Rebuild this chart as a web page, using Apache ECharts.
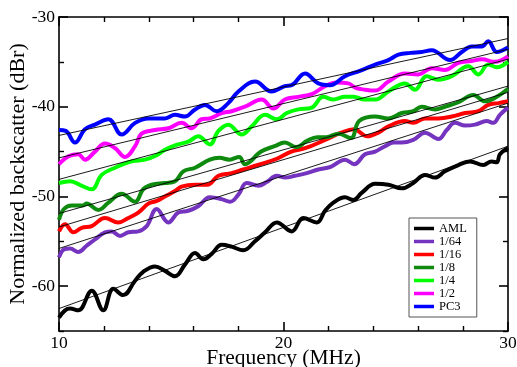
<!DOCTYPE html>
<html>
<head>
<meta charset="utf-8">
<script src="https://cdn.jsdelivr.net/npm/echarts@6/dist/echarts.min.js"></script>
<style>
html,body{margin:0;padding:0;background:#fff;}
#c{width:517px;height:367px;}
</style>
</head>
<body>
<div id="c"></div>
<script>
// ---- data ----
const seriesNames = ['AML', '1/64', '1/16', '1/8', '1/4', '1/2', 'PC3'];
const xTicks = [10, 20, 30];
const yTickLabels = [-60, -50, -40, -30];
const yMinorTicks = [-65, -55, -45, -35];

const aml = [[10.0,-63.5],[10.27,-62.7],[10.49,-62.5],[10.86,-62.7],[11.46,-60.5],[11.97,-62.7],[12.42,-60.3],[12.86,-61.0],[13.39,-59.4],[13.75,-58.4],[14.28,-57.8],[14.72,-58.3],[15.17,-58.9],[15.61,-57.6],[16.06,-56.3],[16.43,-57.0],[16.80,-56.4],[17.25,-55.4],[17.69,-55.6],[18.21,-56.0],[18.73,-55.0],[19.18,-54.0],[19.70,-52.9],[20.37,-53.9],[20.88,-52.4],[21.48,-52.9],[21.85,-51.6],[22.22,-50.7],[22.74,-50.1],[23.11,-50.4],[23.48,-49.6],[24.08,-48.6],[24.67,-48.7],[25.27,-49.1],[25.78,-48.5],[26.30,-47.6],[26.75,-47.9],[27.19,-47.2],[27.79,-46.5],[28.31,-46.1],[28.90,-46.5],[29.27,-46.1],[29.50,-46.2],[29.64,-45.3],[30.0,-44.6]];

const s64 = [[10.0,-56.8],[10.22,-55.9],[10.49,-55.8],[10.86,-56.2],[11.23,-55.5],[11.60,-54.8],[12.05,-54.0],[12.35,-53.9],[12.72,-54.4],[13.09,-54.0],[13.53,-53.9],[13.91,-53.3],[14.35,-51.4],[14.87,-52.9],[15.31,-51.8],[15.76,-51.6],[16.20,-51.1],[16.72,-50.1],[17.24,-50.3],[17.62,-50.6],[17.99,-49.8],[18.36,-48.5],[18.88,-48.8],[19.25,-48.4],[19.70,-47.7],[20.07,-47.9],[20.51,-47.7],[21.03,-47.4],[21.55,-47.0],[22.10,-46.7],[22.74,-45.9],[23.15,-46.4],[23.63,-45.3],[24.08,-45.0],[24.52,-44.4],[24.90,-44.0],[25.27,-44.0],[25.78,-43.7],[26.30,-42.9],[26.90,-43.6],[27.27,-42.6],[27.64,-41.8],[28.09,-42.1],[28.53,-42.0],[29.05,-41.6],[29.35,-41.8],[29.64,-40.9],[30.0,-40.1]];

const s16 = [[10.0,-53.9],[10.27,-53.1],[10.64,-54.0],[11.01,-53.5],[11.46,-53.3],[12.05,-52.4],[12.64,-52.9],[13.09,-52.4],[13.53,-51.8],[13.98,-50.8],[14.35,-50.5],[14.72,-50.0],[15.17,-49.4],[15.46,-48.9],[16.06,-48.7],[16.60,-48.7],[17.10,-47.7],[17.69,-47.4],[18.21,-47.0],[18.86,-46.5],[19.70,-45.8],[20.35,-45.0],[21.0,-44.6],[21.85,-43.7],[22.57,-42.9],[23.13,-42.5],[23.73,-43.3],[24.28,-42.8],[24.67,-42.2],[25.41,-41.6],[25.78,-41.8],[26.30,-41.3],[26.90,-41.3],[27.49,-41.1],[28.09,-40.7],[28.68,-40.5],[29.12,-39.8],[29.57,-39.6],[30.0,-39.4]];

const s8 = [[10.0,-52.6],[10.22,-51.4],[10.57,-51.0],[11.06,-51.0],[11.23,-50.8],[11.75,-51.5],[12.20,-50.7],[12.79,-49.7],[13.39,-50.6],[13.75,-49.2],[14.13,-48.7],[14.72,-48.5],[15.17,-48.3],[15.54,-47.2],[16.06,-46.8],[16.72,-45.9],[17.15,-45.7],[17.59,-45.9],[18.03,-45.6],[18.28,-46.4],[19.0,-45.0],[19.60,-44.4],[20.06,-44.0],[20.57,-44.5],[21.05,-43.8],[21.50,-43.4],[21.90,-43.4],[22.45,-43.0],[23.0,-43.5],[23.37,-41.6],[24.08,-41.1],[24.67,-41.3],[25.27,-40.7],[25.78,-40.5],[26.15,-40.0],[26.75,-40.3],[27.19,-40.0],[27.79,-39.5],[28.46,-38.7],[28.98,-39.4],[29.50,-38.9],[30.0,-38.0]];

const s4 = [[10.0,-48.5],[10.5,-48.3],[11.0,-48.8],[11.46,-49.2],[11.90,-47.6],[12.49,-46.8],[13.24,-46.1],[13.83,-45.9],[14.28,-45.5],[14.72,-44.8],[15.17,-44.3],[15.76,-43.9],[16.20,-43.3],[16.72,-44.2],[17.10,-42.7],[17.54,-42.0],[18.14,-43.1],[18.58,-42.2],[19.18,-40.9],[19.70,-41.4],[20.15,-40.7],[20.66,-40.3],[21.26,-40.1],[21.77,-38.9],[22.22,-39.2],[22.74,-38.9],[23.13,-38.9],[23.60,-39.2],[24.08,-39.2],[24.67,-38.3],[25.41,-37.4],[25.86,-38.1],[26.37,-36.6],[26.90,-37.0],[27.49,-36.6],[28.23,-35.5],[28.68,-36.4],[29.12,-35.3],[29.50,-35.6],[30.0,-35.0]];

const s2 = [[10.0,-46.4],[10.45,-45.5],[10.86,-45.3],[11.16,-45.9],[11.60,-45.0],[12.05,-44.1],[12.49,-44.6],[12.94,-45.6],[13.39,-44.4],[13.68,-43.0],[14.28,-42.6],[14.87,-42.4],[15.46,-41.8],[15.91,-42.4],[16.35,-41.4],[16.72,-41.3],[17.25,-40.7],[17.69,-40.5],[18.28,-40.0],[19.03,-39.2],[19.55,-40.2],[20.06,-39.2],[20.66,-38.9],[21.26,-38.6],[21.85,-37.7],[22.37,-37.3],[22.89,-37.4],[23.22,-37.9],[23.63,-38.1],[24.08,-38.2],[24.67,-37.2],[25.41,-36.3],[26.0,-36.4],[26.60,-35.7],[27.19,-35.9],[27.79,-35.1],[28.38,-34.9],[28.83,-34.7],[29.42,-35.0],[30.0,-34.4]];

const pc3 = [[10.0,-42.6],[10.3,-42.7],[10.71,-44.0],[11.16,-42.5],[11.60,-42.0],[12.20,-41.4],[12.79,-43.1],[13.39,-41.8],[13.98,-41.3],[14.72,-41.3],[15.17,-40.9],[15.61,-41.1],[16.06,-40.3],[16.50,-39.8],[17.02,-40.5],[17.54,-39.6],[17.99,-38.3],[18.73,-37.2],[19.47,-38.3],[20.06,-37.7],[20.36,-37.6],[20.96,-36.3],[21.55,-37.4],[22.07,-37.6],[22.74,-36.6],[23.40,-36.0],[24.08,-35.3],[24.67,-34.8],[25.12,-34.2],[25.65,-34.0],[26.15,-33.9],[26.60,-33.7],[27.42,-34.8],[27.94,-33.9],[28.38,-33.3],[28.83,-33.3],[29.12,-32.7],[29.50,-33.9],[30.0,-33.4]];

// straight-line fits: values at 10 MHz and 30 MHz
const fitStart = [-62.5, -55.8, -53.4, -51.9, -48.1, -45.7, -43.2];
const fitEnd   = [-44.4, -39.6, -38.4, -37.7, -34.7, -33.6, -32.4];

const curves = [aml, s64, s16, s8, s4, s2, pc3];
const colors = ['#000000', '#7434c0', '#ff0000', '#0e8a0e', '#00ff00', '#ff00ff', '#0000ff'];

// ---- chart ----
const FONT = 'Liberation Serif';
const chart = echarts.init(document.getElementById('c'), null, {renderer: 'canvas'});

const series = [];
curves.forEach((d, i) => {
  series.push({
    name: seriesNames[i], type: 'line', data: d, smooth: 0.4,
    showSymbol: false, symbol: 'none', color: colors[i],
    lineStyle: {width: 4, color: colors[i]}, z: 2 + i, animation: false
  });
});
curves.forEach((d, i) => {
  series.push({
    name: 'fit ' + seriesNames[i], type: 'line',
    data: [[xTicks[0], fitStart[i]], [xTicks[xTicks.length - 1], fitEnd[i]]],
    showSymbol: false, symbol: 'none', silent: true,
    lineStyle: {width: 0.9, color: '#000'}, z: 20, animation: false
  });
});

const axisLine = {show: true, onZero: false, lineStyle: {color: '#000', width: 1.6}};
const labelStyle = {color: '#000', fontFamily: FONT, fontSize: 17.5};

const option = {
  backgroundColor: '#fff',
  animation: false,
  grid: {left: 59, top: 17, right: 9, bottom: 36, containLabel: false, outerBoundsMode: 'none'},
  legend: {
    data: seriesNames, orient: 'vertical', left: 409, top: 218,
    icon: 'rect', itemWidth: 20, itemHeight: 3.5, itemGap: 0,
    padding: [4, 10, 4, 5],
    backgroundColor: '#fff', borderColor: '#555', borderWidth: 1,
    textStyle: {color: '#000', fontFamily: FONT, fontSize: 12.5, lineHeight: 13}
  },
  xAxis: [
    {type: 'value', position: 'bottom', min: 10, max: 30, interval: 10,
     name: 'Frequency (MHz)', nameLocation: 'middle', nameGap: 16, nameMoveOverlap: false,
     nameTextStyle: {color: '#000', fontFamily: FONT, fontSize: 21.5},
     axisLine: axisLine,
     axisTick: {show: true, inside: true, length: 9, lineStyle: {color: '#000', width: 1.6}},
     minorTick: {show: true, splitNumber: 5, length: 5, lineStyle: {color: '#000', width: 1.4}},
     axisLabel: Object.assign({margin: 3}, labelStyle),
     splitLine: {show: false}},
    {type: 'value', position: 'top', min: 10, max: 30, interval: 10,
     axisLine: axisLine,
     axisTick: {show: true, inside: true, length: 9, lineStyle: {color: '#000', width: 1.6}},
     minorTick: {show: true, splitNumber: 5, length: 5, lineStyle: {color: '#000', width: 1.4}},
     axisLabel: {show: false}, splitLine: {show: false}}
  ],
  yAxis: [
    {type: 'value', position: 'left', min: -65, max: -30,
     name: 'Normalized backscatter (dBr)', nameLocation: 'middle', nameGap: 30, nameMoveOverlap: false,
     nameTextStyle: {color: '#000', fontFamily: FONT, fontSize: 22},
     axisLine: axisLine,
     axisTick: {show: true, inside: true, length: 9, customValues: yTickLabels, lineStyle: {color: '#000', width: 1.6}},
     axisLabel: Object.assign({margin: 4, customValues: yTickLabels}, labelStyle),
     splitLine: {show: false}},
    {type: 'value', position: 'left', min: -65, max: -30,
     axisLine: {show: false},
     axisTick: {show: true, inside: true, length: 5, customValues: yMinorTicks, lineStyle: {color: '#000', width: 1.4}},
     axisLabel: {show: false}, splitLine: {show: false}},
    {type: 'value', position: 'right', min: -65, max: -30,
     axisLine: axisLine,
     axisTick: {show: true, inside: true, length: 9, customValues: yTickLabels, lineStyle: {color: '#000', width: 1.6}},
     axisLabel: {show: false}, splitLine: {show: false}},
    {type: 'value', position: 'right', min: -65, max: -30,
     axisLine: {show: false},
     axisTick: {show: true, inside: true, length: 5, customValues: yMinorTicks, lineStyle: {color: '#000', width: 1.4}},
     axisLabel: {show: false}, splitLine: {show: false}}
  ],
  series: series
};
chart.setOption(option);
</script>
</body>
</html>
